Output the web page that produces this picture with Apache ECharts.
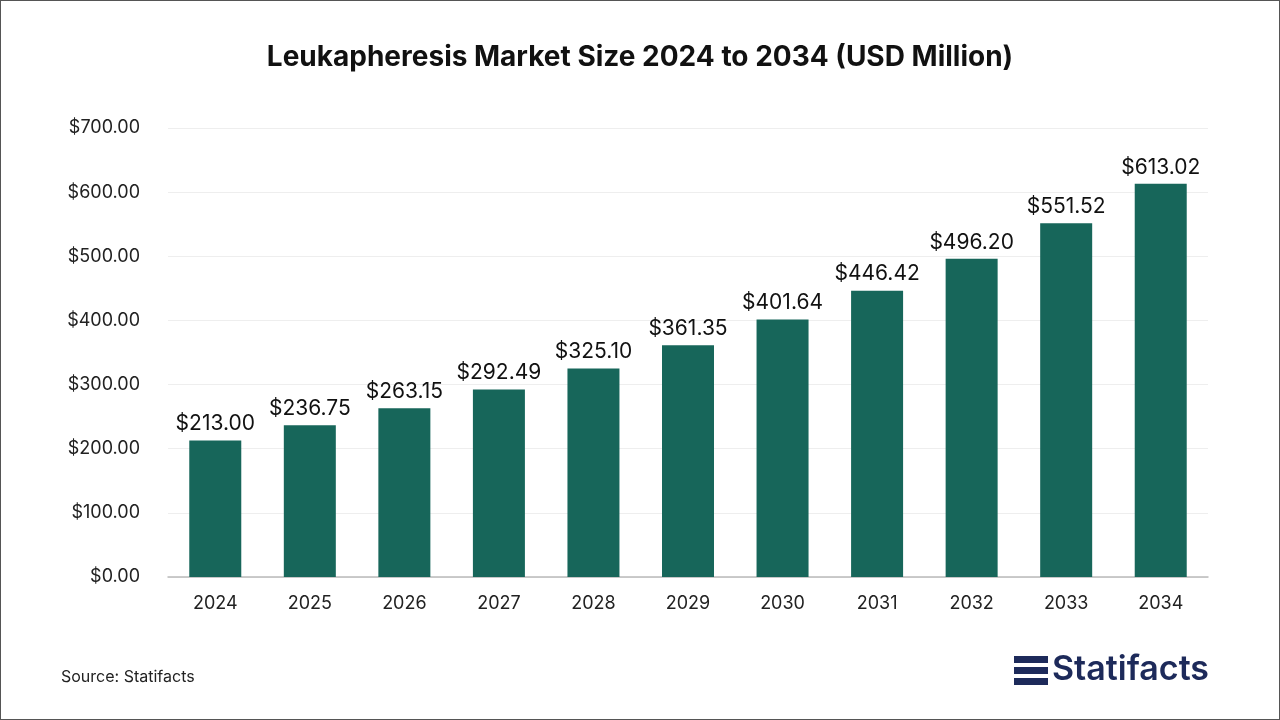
<!DOCTYPE html>
<html><head><meta charset="utf-8">
<script src="https://cdn.jsdelivr.net/npm/echarts@6/dist/echarts.min.js"></script>
<style>html,body{margin:0;padding:0;background:#fff}#c{width:1280px;height:720px;box-sizing:border-box;border:1px solid #555}</style>
</head><body><div id="c"></div>
<script>
const categories=['2024','2025','2026','2027','2028','2029','2030','2031','2032','2033','2034'];
const values=[213.00,236.75,263.15,292.49,325.10,361.35,401.64,446.42,496.20,551.52,613.02];
const F='Inter';
const chart=echarts.init(document.getElementById('c'));
chart.setOption({
  title:{text:'Leukapheresis Market Size 2024 to 2034 (USD Million)',left:'center',top:38,textStyle:{fontFamily:F,fontSize:28,fontWeight:'bold',color:'#111'}},
  grid:{left:167,right:71,top:127,bottom:142},
  xAxis:{type:'category',data:categories,axisTick:{show:false},axisLine:{lineStyle:{color:'#bbb',width:1.5}},axisLabel:{fontFamily:F,fontSize:18,color:'#222',margin:18}},
  yAxis:{type:'value',min:0,max:700,interval:100,axisLabel:{fontFamily:F,fontSize:18,color:'#222',margin:28,formatter:v=>'$'+v.toFixed(2)},splitLine:{lineStyle:{color:'#eee'}}},
  series:[{type:'bar',data:values,barWidth:'55%',itemStyle:{color:'#17665a'},label:{show:true,position:'top',distance:6,fontFamily:F,fontSize:21,color:'#111',formatter:p=>'$'+p.value.toFixed(2)}}],
  graphic:[
    {type:'text',left:60,top:668,style:{text:'Source: Statifacts',font:'16px Inter',fill:'#222'}},
    {type:'group',left:1013,top:652,children:[
      {type:'rect',shape:{x:0,y:0,width:34,height:7},style:{fill:'#1d2a5a'}},
      {type:'rect',shape:{x:0,y:11,width:34,height:7},style:{fill:'#1d2a5a'}},
      {type:'rect',shape:{x:0,y:22,width:34,height:7},style:{fill:'#1d2a5a'}},
      {type:'text',x:38,y:-3,style:{text:'Statifacts',font:'600 34px Inter',fill:'#1d2a5a'}}
    ]}
  ]
});
</script></body></html>
